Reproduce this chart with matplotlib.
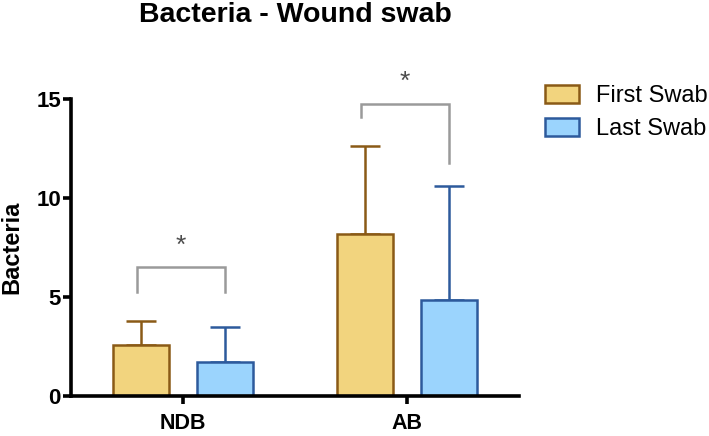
import numpy as np
import matplotlib.pyplot as plt

plt.rcParams['font.family'] = ['Liberation Sans', 'DejaVu Sans']

categories = ['NDB', 'AB']
first_mean = [2.55, 8.2]
first_err = [1.25, 4.4]
last_mean = [1.7, 4.85]
last_err = [1.8, 5.75]

# significance brackets: (group, bar height, left leg end, right leg end, star height)
brackets = [
    (0, 6.5, 5.25, 5.25, 7.6),
    (1, 14.75, 14.1, 11.75, 15.85),
]

first_fill, first_edge = '#F2D47E', '#8A5A16'
last_fill, last_edge = '#9BD4FD', '#2D5A9C'

fig = plt.figure(figsize=(7.09, 4.36), dpi=100)
ax = fig.add_axes([0.0997, 0.092, 0.632, 0.681])

x = np.arange(len(categories))
w = 0.25
off = 0.187

ax.bar(x - off, first_mean, w, color=first_fill, edgecolor=first_edge, linewidth=1.8,
       label='First Swab', zorder=2)
ax.bar(x + off, last_mean, w, color=last_fill, edgecolor=last_edge, linewidth=1.8,
       label='Last Swab', zorder=2)

# upper-only error bars
ax.errorbar(x - off, first_mean, yerr=[np.zeros(2), first_err], fmt='none',
            ecolor=first_edge, elinewidth=1.8, capsize=11, capthick=1.8, zorder=1)
ax.errorbar(x + off, last_mean, yerr=[np.zeros(2), last_err], fmt='none',
            ecolor=last_edge, elinewidth=1.8, capsize=11, capthick=1.8, zorder=1)

for xi, top, l_end, r_end, star_y in brackets:
    xl, xr = xi - off - 0.015, xi + off
    ax.plot([xl, xl, xr, xr], [l_end, top, top, r_end], color='#9a9a9a', lw=1.8,
            clip_on=False, solid_joinstyle='miter')
    ax.text((xl + xr) / 2, star_y, '*', ha='center', va='center', fontsize=19,
            color='#4d4d4d', clip_on=False)

ax.set_xlim(-0.5, 1.5)
ax.set_ylim(0, 15)
ax.set_xticks(x)
ax.set_xticklabels(categories, fontsize=15.5, fontweight='bold')
ax.set_yticks([0, 5, 10, 15])
ax.set_yticklabels(['0', '5', '10', '15'], fontsize=16, fontweight='bold')
ax.set_ylabel('Bacteria', fontsize=17, fontweight='bold', labelpad=9)
ax.spines['top'].set_visible(False)
ax.spines['right'].set_visible(False)
ax.spines['left'].set_linewidth(2.6)
ax.spines['bottom'].set_linewidth(2.6)
ax.tick_params(width=2.6, length=6)
ax.tick_params(axis='y', pad=1)
ax.tick_params(axis='x', pad=6)

fig.suptitle('Bacteria - Wound swab', x=0.416, y=0.995, fontsize=20.5, fontweight='bold')

fig.legend(loc='upper left', bbox_to_anchor=(0.768, 0.806), frameon=False, fontsize=17,
           handlelength=1.44, handleheight=0.8, handletextpad=0.72, labelspacing=0.48,
           borderaxespad=0, borderpad=0)

fig.savefig('out.png', dpi=100)
